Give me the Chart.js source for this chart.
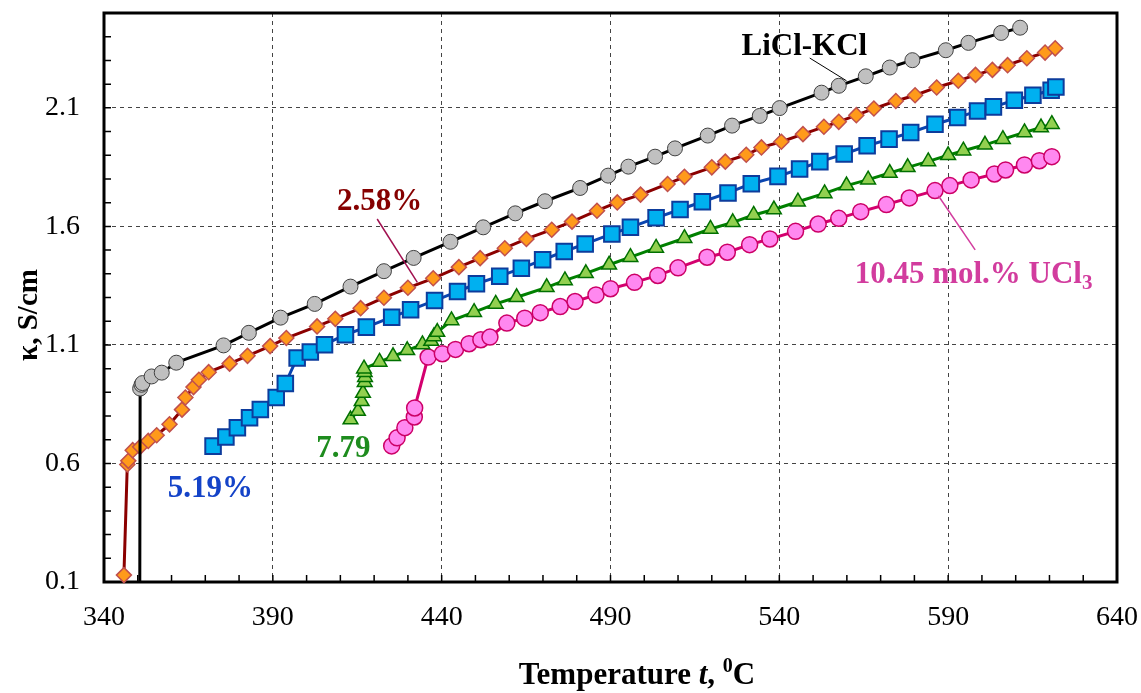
<!DOCTYPE html>
<html><head><meta charset="utf-8">
<script src="https://cdn.jsdelivr.net/npm/chart.js@4.4.1/dist/chart.umd.min.js"></script>
<style>html,body{margin:0;padding:0;background:#fff;} #wrap{width:1141px;height:693px;}</style>
</head><body><div id="wrap"><canvas id="c" width="1141" height="693"></canvas></div>
<script>
// ---- tick labels ----
const xTicks = [340, 390, 440, 490, 540, 590, 640];
const yTicks = [0.1, 0.6, 1.1, 1.6, 2.1];

// ---- LiCl-KCl ----
const liclT = [350.6, 350.7, 351.1, 351.4, 354.1, 357.1, 361.4, 375.4, 382.9, 392.3, 402.4, 413.0, 422.9, 431.7, 442.6, 452.3, 461.8, 470.6, 481.0, 489.3, 495.3, 503.2, 509.1, 518.8, 526.0, 534.2, 540.1, 552.5, 557.6, 565.6, 572.7, 579.4, 589.3, 596.0, 605.7, 611.3];
const liclK = [0.10, 0.916, 0.932, 0.939, 0.967, 0.983, 1.025, 1.098, 1.151, 1.215, 1.273, 1.346, 1.411, 1.467, 1.535, 1.596, 1.655, 1.706, 1.762, 1.814, 1.852, 1.894, 1.929, 1.983, 2.025, 2.066, 2.099, 2.164, 2.193, 2.233, 2.270, 2.301, 2.343, 2.374, 2.416, 2.438];

// ---- 2.58 mol.% UCl3 ----
const u258T = [345.9, 346.9, 347.2, 348.5, 350.7, 353.1, 355.6, 359.4, 363.1, 364.1, 366.5, 368.1, 371.0, 377.2, 382.5, 389.2, 394.0, 403.1, 408.5, 416.0, 422.9, 430.0, 437.5, 445.1, 451.4, 458.7, 465.1, 472.6, 478.6, 486.0, 492.0, 498.9, 506.9, 511.9, 520.0, 524.0, 530.2, 534.7, 540.6, 547.0, 553.2, 557.6, 562.8, 568.0, 574.5, 580.2, 586.6, 593.0, 598.1, 603.1, 607.6, 613.3, 618.7, 621.7];
const u258K = [0.129, 0.596, 0.611, 0.656, 0.670, 0.695, 0.719, 0.765, 0.827, 0.878, 0.922, 0.953, 0.985, 1.021, 1.054, 1.095, 1.129, 1.178, 1.210, 1.255, 1.299, 1.341, 1.381, 1.428, 1.466, 1.508, 1.547, 1.586, 1.620, 1.666, 1.701, 1.734, 1.779, 1.809, 1.849, 1.873, 1.902, 1.933, 1.957, 1.989, 2.020, 2.041, 2.069, 2.097, 2.129, 2.153, 2.186, 2.214, 2.239, 2.260, 2.280, 2.309, 2.333, 2.351];

// ---- 5.19 mol.% UCl3 ----
const u519T = [372.3, 376.1, 379.5, 383.1, 386.3, 391.0, 393.7, 397.2, 401.1, 405.3, 411.5, 417.7, 425.2, 430.8, 437.9, 444.7, 450.3, 457.2, 463.6, 469.9, 476.3, 482.5, 490.4, 495.9, 503.5, 510.6, 517.2, 524.8, 531.7, 539.6, 546.0, 552.0, 559.2, 566.0, 572.5, 578.9, 586.1, 592.8, 598.7, 603.4, 609.6, 615.1, 620.5, 621.9];
const u519K = [0.673, 0.712, 0.751, 0.793, 0.828, 0.878, 0.937, 1.045, 1.070, 1.101, 1.143, 1.175, 1.217, 1.248, 1.287, 1.325, 1.358, 1.390, 1.423, 1.459, 1.494, 1.526, 1.568, 1.596, 1.636, 1.671, 1.704, 1.741, 1.780, 1.811, 1.842, 1.873, 1.905, 1.940, 1.968, 1.996, 2.031, 2.059, 2.087, 2.104, 2.132, 2.153, 2.174, 2.188];

// ---- 7.79 mol.% UCl3 ----
const u779T = [413.0, 415.2, 416.3, 416.7, 417.2, 417.3, 417.2, 417.0, 421.6, 425.6, 429.8, 434.3, 436.9, 437.7, 438.7, 442.9, 449.6, 456.0, 462.2, 471.1, 476.5, 482.7, 489.6, 495.9, 503.5, 511.9, 519.6, 526.2, 532.4, 538.4, 545.5, 553.4, 559.9, 566.3, 572.7, 578.0, 584.1, 590.0, 594.5, 600.9, 606.2, 612.6, 617.5, 620.7];
const u779K = [0.785, 0.821, 0.862, 0.897, 0.943, 0.964, 0.985, 1.000, 1.028, 1.052, 1.077, 1.102, 1.116, 1.136, 1.154, 1.203, 1.238, 1.273, 1.301, 1.343, 1.372, 1.402, 1.438, 1.470, 1.509, 1.550, 1.589, 1.617, 1.648, 1.671, 1.704, 1.739, 1.772, 1.797, 1.825, 1.849, 1.874, 1.900, 1.919, 1.944, 1.968, 1.996, 2.017, 2.031];

// ---- 10.45 mol.% UCl3 ----
const u1045T = [425.2, 426.8, 429.1, 431.9, 432.0, 436.0, 440.2, 444.1, 448.1, 451.6, 454.3, 459.3, 464.6, 469.2, 475.1, 479.5, 485.7, 490.0, 497.1, 504.0, 510.0, 518.6, 524.6, 531.2, 537.2, 544.8, 551.5, 557.6, 564.1, 571.7, 578.5, 586.1, 590.5, 596.8, 603.7, 607.0, 612.6, 617.0, 620.7];
const u1045K = [0.674, 0.708, 0.751, 0.796, 0.834, 1.049, 1.063, 1.081, 1.105, 1.122, 1.133, 1.192, 1.213, 1.236, 1.262, 1.283, 1.311, 1.337, 1.364, 1.393, 1.425, 1.470, 1.491, 1.523, 1.547, 1.579, 1.610, 1.634, 1.662, 1.692, 1.720, 1.751, 1.772, 1.796, 1.821, 1.838, 1.859, 1.877, 1.894];

const SERIF = '"Liberation Serif", "Times New Roman", serif';
const pts = (ts, ks) => ts.map((t, i) => ({x: t, y: ks[i]}));

// series labels (data coordinates) and leader lines
const seriesLabels = [
  {text: 'LiCl-KCl', x: 547.4, y: 2.323, color: '#000000'},
  {text: '2.58%', x: 421.6, y: 1.671, color: '#850000'},
  {text: '5.19%', x: 371.5, y: 0.458, color: '#1443C8'},
  {text: '7.79', x: 410.9, y: 0.626, color: '#1E8C1E'},
];
const leaders = [
  {x1: 549.0, y1: 2.310, x2: 559.9, y2: 2.214, color: '#000000', w: 1},
  {x1: 420.9, y1: 1.631, x2: 432.8, y2: 1.364, color: '#A0104F', w: 1.5},
  {x1: 587.1, y1: 1.729, x2: 598.0, y2: 1.501, color: '#D23C9E', w: 1.5},
];

function mkSet(data, line, fill, edge, shape, r, lw, bw) {
  return {
    data, showLine: true, borderColor: line, borderWidth: lw,
    pointBackgroundColor: fill, pointBorderColor: edge, pointBorderWidth: bw,
    pointStyle: shape, pointRadius: r, pointHoverRadius: r, tension: 0, clip: false
  };
}

const decor = {
  id: 'decor',
  beforeDatasetsDraw(chart) {
    const {ctx, chartArea: a, scales: {x, y}} = chart;
    ctx.save();
    ctx.strokeStyle = '#000'; ctx.lineWidth = 1.5;
    ctx.beginPath();
    for (let t = 340; t <= 640; t += 10) {
      const px = x.getPixelForValue(t);
      ctx.moveTo(px, a.bottom); ctx.lineTo(px, a.bottom - 7);
    }
    for (let i = 1; i <= 25; i++) {
      const py = y.getPixelForValue(i / 10);
      ctx.moveTo(a.left, py); ctx.lineTo(a.left + 7, py);
    }
    ctx.stroke();
    ctx.lineWidth = 3;
    ctx.strokeRect(a.left, a.top, a.right - a.left, a.bottom - a.top);
    ctx.restore();
  },
  afterDatasetsDraw(chart) {
    const {ctx, chartArea: a, scales: {x, y}} = chart;
    ctx.save();
    leaders.forEach(l => {
      ctx.strokeStyle = l.color; ctx.lineWidth = l.w;
      ctx.beginPath();
      ctx.moveTo(x.getPixelForValue(l.x1), y.getPixelForValue(l.y1));
      ctx.lineTo(x.getPixelForValue(l.x2), y.getPixelForValue(l.y2));
      ctx.stroke();
    });
    ctx.textBaseline = 'alphabetic';
    ctx.textAlign = 'center';
    seriesLabels.forEach(s => {
      ctx.font = 'bold 31px ' + SERIF;
      ctx.fillStyle = s.color;
      ctx.fillText(s.text, x.getPixelForValue(s.x), y.getPixelForValue(s.y));
    });
    // 10.45 mol.% UCl3 with subscript
    ctx.textAlign = 'left';
    ctx.fillStyle = '#D23C9E';
    ctx.font = 'bold 31px ' + SERIF;
    const ux = x.getPixelForValue(562.3), uy = y.getPixelForValue(1.363);
    const main = '10.45 mol.% UCl';
    ctx.fillText(main, ux, uy);
    const mw = ctx.measureText(main).width;
    ctx.font = 'bold 21px ' + SERIF;
    ctx.fillText('3', ux + mw, uy + 6);

    // x-axis title
    const parts = [
      {t: 'Temperature ', f: 'bold 31px ' + SERIF, dy: 0},
      {t: 't', f: 'italic bold 31px ' + SERIF, dy: 0},
      {t: ', ', f: 'bold 31px ' + SERIF, dy: 0},
      {t: '0', f: 'bold 20px ' + SERIF, dy: -12},
      {t: 'C', f: 'bold 31px ' + SERIF, dy: 0},
    ];
    let total = 0;
    parts.forEach(p => { ctx.font = p.f; p.w = ctx.measureText(p.t).width; total += p.w; });
    let cx = 637 - total / 2;
    ctx.fillStyle = '#000';
    parts.forEach(p => { ctx.font = p.f; ctx.fillText(p.t, cx, 684 + p.dy); cx += p.w; });

    // y-axis title
    ctx.save();
    ctx.translate(37, 315);
    ctx.rotate(-Math.PI / 2);
    ctx.textAlign = 'center';
    ctx.font = 'bold 29px ' + SERIF;
    ctx.fillText('\u03BA, S/cm', 0, 0);
    ctx.restore();
    ctx.restore();
  }
};

const majorOnly = (scale, ticks) => { scale.ticks = ticks.map(v => ({value: v})); };

new Chart(document.getElementById('c'), {
  type: 'scatter',
  data: {
    datasets: [
      mkSet(pts(liclT, liclK), '#000000', '#C0C0C0', '#404040', 'circle',
            ctx => ctx.dataIndex === 0 ? 0 : 7.5, 3, 1),
      mkSet(pts(u258T, u258K), '#8B0000', '#FF9A1A', '#C0504D', 'rectRot', 7.5, 3, 1.5),
      mkSet(pts(u519T, u519K), '#0A45B0', '#00B0F0', '#0D3C9C', 'rect', 11, 3, 2),
      mkSet(pts(u779T, u779K), '#008000', '#92D050', '#007000', 'triangle', 8.5, 3, 1.5),
      mkSet(pts(u1045T, u1045K), '#D4006F', '#FF88F0', '#CC0066', 'circle', 8, 3, 1.5),
    ]
  },
  options: {
    responsive: false,
    devicePixelRatio: 1,
    animation: false,
    layout: {padding: {top: 12, right: 24, left: 0, bottom: 0}},
    plugins: {legend: {display: false}, tooltip: {enabled: false}},
    scales: {
      x: {
        type: 'linear', min: 340, max: 640,
        afterBuildTicks: s => majorOnly(s, xTicks),
        afterFit: s => { s.height = 111; s.paddingLeft = 0; s.paddingRight = 0; s.paddingTop = 0; s.paddingBottom = 0; },
        ticks: {padding: 19, color: '#000', font: {family: SERIF, size: 28}, maxRotation: 0, autoSkip: false},
        grid: {
          drawTicks: false,
          color: c => (c.tick && (c.tick.value === 340 || c.tick.value === 640)) ? 'rgba(0,0,0,0)' : '#444',
          lineWidth: 1
        },
        border: {display: false, dash: [4, 4]}
      },
      y: {
        type: 'linear', min: 0.1, max: 2.5,
        afterBuildTicks: s => majorOnly(s, yTicks),
        afterFit: s => { s.width = 104; s.paddingLeft = 0; s.paddingRight = 0; s.paddingTop = 0; s.paddingBottom = 0; },
        ticks: {padding: 24, color: '#000', font: {family: SERIF, size: 28}, autoSkip: false,
                callback: v => v.toFixed(1)},
        grid: {
          drawTicks: false,
          color: c => (c.tick && c.tick.value === 0.1) ? 'rgba(0,0,0,0)' : '#444',
          lineWidth: 1
        },
        border: {display: false, dash: [4, 4]}
      }
    }
  },
  plugins: [decor]
});
</script>
</body></html>
